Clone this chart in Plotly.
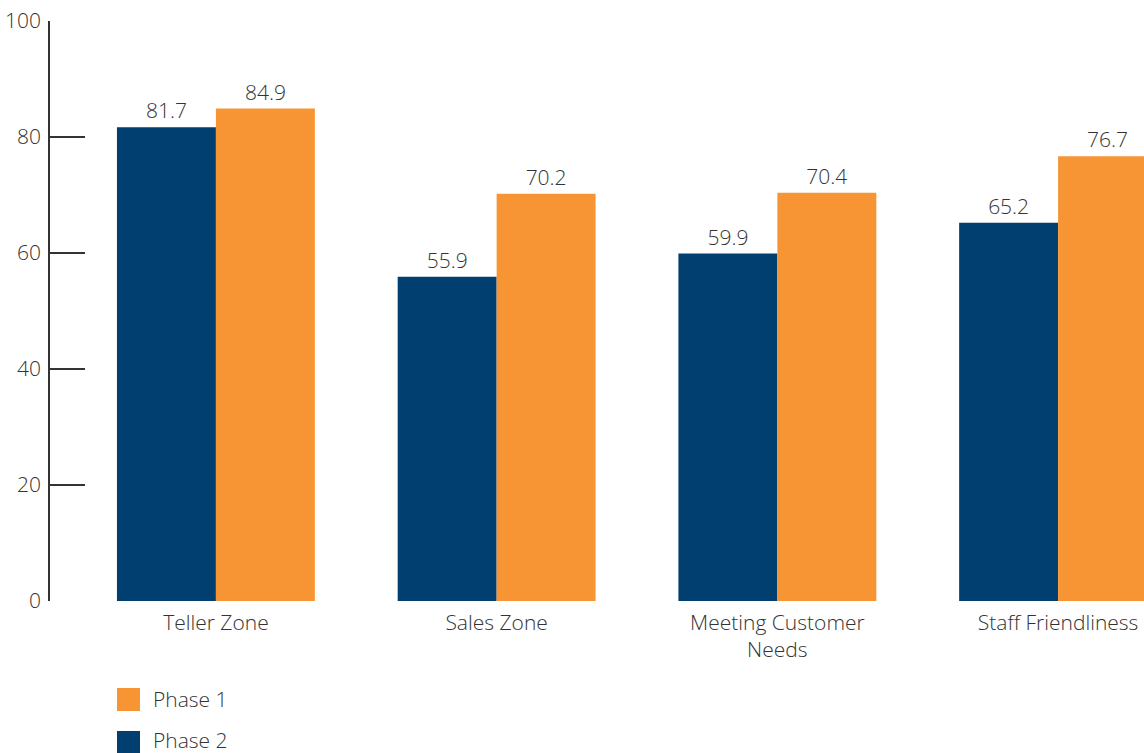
import plotly.graph_objects as go

categories = ["Teller Zone", "Sales Zone", "Meeting Customer<br>Needs", "Staff Friendliness"]
phase2 = [81.7, 55.9, 59.9, 65.2]
phase1 = [84.9, 70.2, 70.4, 76.7]
y_ticks = [0, 20, 40, 60, 80, 100]

NAVY = "#013F71"
ORANGE = "#F79534"
INK = "#333333"
FONT = dict(family="Open Sans, Segoe UI, sans-serif", size=21, color=INK, weight=300)

fig = go.Figure()
fig.add_trace(go.Bar(
    name="Phase 2", x=categories, y=phase2, marker=dict(color=NAVY, line=dict(width=0)),
    text=[f"{v:.1f}" for v in phase2], textposition="outside", textfont=FONT,
    cliponaxis=False, showlegend=False,
))
fig.add_trace(go.Bar(
    name="Phase 1", x=categories, y=phase1, marker=dict(color=ORANGE, line=dict(width=0)),
    text=[f"{v:.1f}" for v in phase1], textposition="outside", textfont=FONT,
    cliponaxis=False, showlegend=False,
))

# Legend drawn as swatches + labels below the plot
legend_items = [("Phase 1", ORANGE), ("Phase 2", NAVY)]
for i, (label, color) in enumerate(legend_items):
    y_top = 688 + i * 43
    fig.add_shape(type="rect", xref="paper", yref="paper",
                  x0=(117 - 50) / 1094, x1=(140 - 50) / 1094,
                  y0=(601 - (y_top + 23)) / 580, y1=(601 - y_top) / 580,
                  fillcolor=color, line=dict(width=0), layer="above")
    fig.add_annotation(xref="paper", yref="paper", x=(151 - 50) / 1094,
                       y=(601 - (y_top + 11 - i * 2)) / 580, text=label, showarrow=False,
                       xanchor="left", yanchor="middle", font=FONT)

fig.update_layout(
    width=1144, height=753,
    margin=dict(l=50, r=0, t=21, b=152),
    plot_bgcolor="white", paper_bgcolor="white",
    barmode="group", bargap=0.295, bargroupgap=0,
    font=FONT, showlegend=False,
    uniformtext=dict(mode=False),
)
fig.update_xaxes(
    range=[-0.591, 3.306], showline=False, showgrid=False, ticks="",
    tickfont=FONT, ticklabelstandoff=7, fixedrange=True,
)
fig.update_yaxes(
    range=[0, 100], tickvals=y_ticks, showgrid=False, zeroline=False,
    showline=True, linecolor=INK, linewidth=1.5,
    ticks="inside", ticklen=35, tickwidth=1.5, tickcolor=INK,
    tickfont=FONT, ticklabelstandoff=3, fixedrange=True,
)

fig.write_html("out.html")
